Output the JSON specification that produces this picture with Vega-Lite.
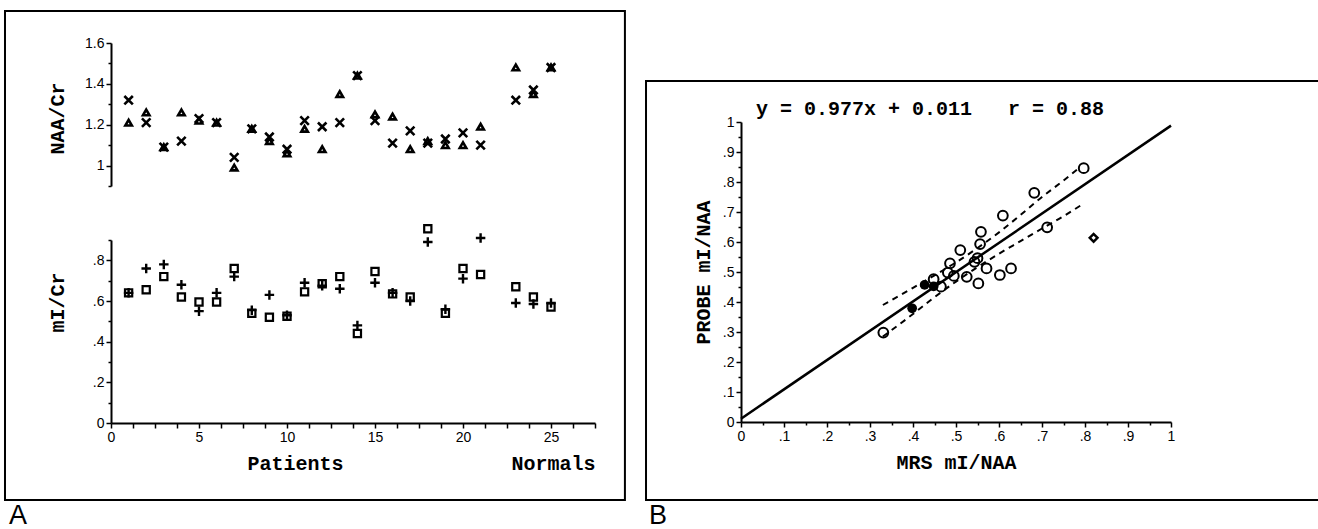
{
  "$schema": "https://vega.github.io/schema/vega-lite/v6.json",
  "background": "white",
  "padding": {"left": 3, "top": 10, "right": 0, "bottom": 0},
  "config": {
    "view": {"stroke": null},
    "axis": {
      "domainColor": "black", "domainWidth": 2, "tickColor": "black", "tickWidth": 1.5,
      "labelColor": "black", "labelFont": "Liberation Sans", "labelFontSize": 14, "labelPadding": 2,
      "labelFlush": false, "labelOverlap": false,
      "titleColor": "black", "titleFont": "Liberation Mono", "titleFontSize": 20, "titleFontWeight": "bold",
      "grid": false
    }
  },
  "datasets": {
    "naa": [
      {"patient": 1, "marker": "x", "value": 1.32}, {"patient": 1, "marker": "tri", "value": 1.21},
      {"patient": 2, "marker": "x", "value": 1.21}, {"patient": 2, "marker": "tri", "value": 1.26},
      {"patient": 3, "marker": "x", "value": 1.09}, {"patient": 3, "marker": "tri", "value": 1.09},
      {"patient": 4, "marker": "x", "value": 1.12}, {"patient": 4, "marker": "tri", "value": 1.26},
      {"patient": 5, "marker": "x", "value": 1.23}, {"patient": 5, "marker": "tri", "value": 1.22},
      {"patient": 6, "marker": "x", "value": 1.21}, {"patient": 6, "marker": "tri", "value": 1.21},
      {"patient": 7, "marker": "x", "value": 1.04}, {"patient": 7, "marker": "tri", "value": 0.99},
      {"patient": 8, "marker": "x", "value": 1.18}, {"patient": 8, "marker": "tri", "value": 1.18},
      {"patient": 9, "marker": "x", "value": 1.14}, {"patient": 9, "marker": "tri", "value": 1.12},
      {"patient": 10, "marker": "x", "value": 1.08}, {"patient": 10, "marker": "tri", "value": 1.06},
      {"patient": 11, "marker": "x", "value": 1.22}, {"patient": 11, "marker": "tri", "value": 1.18},
      {"patient": 12, "marker": "x", "value": 1.19}, {"patient": 12, "marker": "tri", "value": 1.08},
      {"patient": 13, "marker": "x", "value": 1.21}, {"patient": 13, "marker": "tri", "value": 1.35},
      {"patient": 14, "marker": "x", "value": 1.44}, {"patient": 14, "marker": "tri", "value": 1.44},
      {"patient": 15, "marker": "x", "value": 1.22}, {"patient": 15, "marker": "tri", "value": 1.25},
      {"patient": 16, "marker": "x", "value": 1.11}, {"patient": 16, "marker": "tri", "value": 1.24},
      {"patient": 17, "marker": "x", "value": 1.17}, {"patient": 17, "marker": "tri", "value": 1.08},
      {"patient": 18, "marker": "x", "value": 1.11}, {"patient": 18, "marker": "tri", "value": 1.12},
      {"patient": 19, "marker": "x", "value": 1.13}, {"patient": 19, "marker": "tri", "value": 1.10},
      {"patient": 20, "marker": "x", "value": 1.16}, {"patient": 20, "marker": "tri", "value": 1.10},
      {"patient": 21, "marker": "x", "value": 1.10}, {"patient": 21, "marker": "tri", "value": 1.19},
      {"patient": 23, "marker": "x", "value": 1.32}, {"patient": 23, "marker": "tri", "value": 1.48},
      {"patient": 24, "marker": "x", "value": 1.37}, {"patient": 24, "marker": "tri", "value": 1.35},
      {"patient": 25, "marker": "x", "value": 1.48}, {"patient": 25, "marker": "tri", "value": 1.48}
    ],
    "mi": [
      {"patient": 1, "marker": "plus", "value": 0.64}, {"patient": 1, "marker": "square", "value": 0.64},
      {"patient": 2, "marker": "plus", "value": 0.76}, {"patient": 2, "marker": "square", "value": 0.655},
      {"patient": 3, "marker": "plus", "value": 0.78}, {"patient": 3, "marker": "square", "value": 0.72},
      {"patient": 4, "marker": "plus", "value": 0.68}, {"patient": 4, "marker": "square", "value": 0.62},
      {"patient": 5, "marker": "plus", "value": 0.55}, {"patient": 5, "marker": "square", "value": 0.595},
      {"patient": 6, "marker": "plus", "value": 0.64}, {"patient": 6, "marker": "square", "value": 0.595},
      {"patient": 7, "marker": "plus", "value": 0.72}, {"patient": 7, "marker": "square", "value": 0.76},
      {"patient": 8, "marker": "plus", "value": 0.555}, {"patient": 8, "marker": "square", "value": 0.54},
      {"patient": 9, "marker": "plus", "value": 0.63}, {"patient": 9, "marker": "square", "value": 0.52},
      {"patient": 10, "marker": "plus", "value": 0.53}, {"patient": 10, "marker": "square", "value": 0.525},
      {"patient": 11, "marker": "plus", "value": 0.69}, {"patient": 11, "marker": "square", "value": 0.645},
      {"patient": 12, "marker": "plus", "value": 0.675}, {"patient": 12, "marker": "square", "value": 0.685},
      {"patient": 13, "marker": "plus", "value": 0.66}, {"patient": 13, "marker": "square", "value": 0.72},
      {"patient": 14, "marker": "plus", "value": 0.48}, {"patient": 14, "marker": "square", "value": 0.44},
      {"patient": 15, "marker": "plus", "value": 0.69}, {"patient": 15, "marker": "square", "value": 0.745},
      {"patient": 16, "marker": "plus", "value": 0.64}, {"patient": 16, "marker": "square", "value": 0.635},
      {"patient": 17, "marker": "plus", "value": 0.60}, {"patient": 17, "marker": "square", "value": 0.62},
      {"patient": 18, "marker": "plus", "value": 0.89}, {"patient": 18, "marker": "square", "value": 0.955},
      {"patient": 19, "marker": "plus", "value": 0.56}, {"patient": 19, "marker": "square", "value": 0.54},
      {"patient": 20, "marker": "plus", "value": 0.71}, {"patient": 20, "marker": "square", "value": 0.76},
      {"patient": 21, "marker": "plus", "value": 0.91}, {"patient": 21, "marker": "square", "value": 0.73},
      {"patient": 23, "marker": "plus", "value": 0.59}, {"patient": 23, "marker": "square", "value": 0.67},
      {"patient": 24, "marker": "plus", "value": 0.585}, {"patient": 24, "marker": "square", "value": 0.62},
      {"patient": 25, "marker": "plus", "value": 0.59}, {"patient": 25, "marker": "square", "value": 0.57}
    ],
    "probe": [
      {"mrs": 0.331, "probe": 0.298, "group": "open"},
      {"mrs": 0.448, "probe": 0.476, "group": "open"},
      {"mrs": 0.465, "probe": 0.451, "group": "open"},
      {"mrs": 0.481, "probe": 0.498, "group": "open"},
      {"mrs": 0.486, "probe": 0.529, "group": "open"},
      {"mrs": 0.495, "probe": 0.487, "group": "open"},
      {"mrs": 0.510, "probe": 0.573, "group": "open"},
      {"mrs": 0.525, "probe": 0.484, "group": "open"},
      {"mrs": 0.543, "probe": 0.534, "group": "open"},
      {"mrs": 0.550, "probe": 0.546, "group": "open"},
      {"mrs": 0.552, "probe": 0.462, "group": "open"},
      {"mrs": 0.556, "probe": 0.593, "group": "open"},
      {"mrs": 0.558, "probe": 0.634, "group": "open"},
      {"mrs": 0.571, "probe": 0.512, "group": "open"},
      {"mrs": 0.602, "probe": 0.490, "group": "open"},
      {"mrs": 0.609, "probe": 0.688, "group": "open"},
      {"mrs": 0.628, "probe": 0.512, "group": "open"},
      {"mrs": 0.682, "probe": 0.764, "group": "open"},
      {"mrs": 0.712, "probe": 0.649, "group": "open"},
      {"mrs": 0.797, "probe": 0.846, "group": "open"},
      {"mrs": 0.398, "probe": 0.379, "group": "filled"},
      {"mrs": 0.427, "probe": 0.457, "group": "filled"},
      {"mrs": 0.448, "probe": 0.452, "group": "filled"},
      {"mrs": 0.820, "probe": 0.614, "group": "diamond"}
    ],
    "fit": [
      {"mrs": 0, "probe": 0.011},
      {"mrs": 1, "probe": 0.988}
    ],
    "band": [
      {"mrs": 0.33, "lower": 0.285, "upper": 0.390},
      {"mrs": 0.40, "lower": 0.360, "upper": 0.447},
      {"mrs": 0.45, "lower": 0.416, "upper": 0.489},
      {"mrs": 0.50, "lower": 0.468, "upper": 0.532},
      {"mrs": 0.55, "lower": 0.516, "upper": 0.580},
      {"mrs": 0.60, "lower": 0.561, "upper": 0.632},
      {"mrs": 0.65, "lower": 0.603, "upper": 0.690},
      {"mrs": 0.70, "lower": 0.645, "upper": 0.750},
      {"mrs": 0.75, "lower": 0.686, "upper": 0.805},
      {"mrs": 0.79, "lower": 0.722, "upper": 0.851}
    ]
  },
  "resolve": {"scale": {"x": "independent", "y": "independent"}},
  "spacing": 19,
  "hconcat": [
    {
      "spacing": 54,
      "bounds": "flush",
      "resolve": {"scale": {"x": "independent", "y": "independent"}},
      "vconcat": [
        {
          "width": 484,
          "height": 143,
          "layer": [
            {
              "data": {"name": "naa"},
              "transform": [{"filter": "datum.marker === 'tri'"}],
              "mark": {"type": "point", "shape": "triangle-up", "filled": false, "color": "black", "strokeWidth": 2.6, "size": 42, "opacity": 1},
              "encoding": {
                "x": {"field": "patient", "type": "quantitative", "scale": {"domain": [0, 27.5], "nice": false}, "axis": null},
                "y": {"field": "value", "type": "quantitative", "title": "NAA/Cr", "scale": {"domain": [0.9, 1.6], "nice": false, "zero": false},
                  "axis": {
                    "title": "NAA/Cr", "titleX": -44, "titleY": 75,
                    "values": [0.9, 1, 1.1, 1.2, 1.3, 1.4, 1.5, 1.6],
                    "labelExpr": "indexof([1.2, 1.4, 1.6], datum.value) >= 0 ? format(datum.value, '.1f') : (datum.value == 1 ? '1' : '')",
                    "tickSize": {"condition": {"test": "indexof([1, 1.2, 1.4, 1.6], datum.value) >= 0", "value": 5}, "value": 3}
                  }
                }
              }
            },
            {
              "data": {"name": "naa"},
              "transform": [{"filter": "datum.marker === 'x'"}],
              "mark": {"type": "point", "shape": "M-1,-1L1,1M-1,1L1,-1", "filled": false, "color": "black", "strokeWidth": 2.6, "size": 72, "opacity": 1},
              "encoding": {
                "x": {"field": "patient", "type": "quantitative", "scale": {"domain": [0, 27.5], "nice": false}, "axis": null},
                "y": {"field": "value", "type": "quantitative", "title": "NAA/Cr", "scale": {"domain": [0.9, 1.6], "nice": false, "zero": false},
                  "axis": {
                    "title": "NAA/Cr", "titleX": -44, "titleY": 75,
                    "values": [0.9, 1, 1.1, 1.2, 1.3, 1.4, 1.5, 1.6],
                    "labelExpr": "indexof([1.2, 1.4, 1.6], datum.value) >= 0 ? format(datum.value, '.1f') : (datum.value == 1 ? '1' : '')",
                    "tickSize": {"condition": {"test": "indexof([1, 1.2, 1.4, 1.6], datum.value) >= 0", "value": 5}, "value": 3}
                  }
                }
              }
            }
          ]
        },
        {
          "width": 484,
          "height": 183,
          "layer": [
            {
              "data": {"values": [{}]},
              "mark": {"type": "rect", "fill": null, "stroke": "black", "strokeWidth": 2},
              "encoding": {
                "x": {"datum": -6.023, "type": "quantitative", "title": "Patients\u00a0\u00a0\u00a0\u00a0\u00a0\u00a0\u00a0\u00a0\u00a0\u00a0\u00a0\u00a0\u00a0\u00a0Normals", "scale": {"domain": [0, 27.5], "nice": false},
                  "axis": {
                    "title": "Patients\u00a0\u00a0\u00a0\u00a0\u00a0\u00a0\u00a0\u00a0\u00a0\u00a0\u00a0\u00a0\u00a0\u00a0Normals",
                    "titleAnchor": "end", "titlePadding": 9,
                    "values": [0, 1.25, 2.5, 3.75, 5, 6.25, 7.5, 8.75, 10, 11.25, 12.5, 13.75, 15, 16.25, 17.5, 18.75, 20, 21.25, 22.5, 23.75, 25, 26.25, 27.5],
                    "labelExpr": "datum.value % 5 === 0 ? datum.label : ''",
                    "tickSize": 5
                  }
                },
                "x2": {"datum": 29.2},
                "y": {"datum": 2.026, "type": "quantitative", "title": "mI/Cr", "scale": {"domain": [0, 0.9], "nice": false},
                  "axis": {
                    "title": "mI/Cr", "titleX": -44, "titleY": 62,
                    "values": [0, 0.1, 0.2, 0.3, 0.4, 0.5, 0.6, 0.7, 0.8, 0.9],
                    "labelExpr": "datum.value == 0 ? '0' : (indexof([0.2, 0.4, 0.6, 0.8], datum.value) >= 0 ? replace(format(datum.value, '.1f'), '0.', '.') : '')",
                    "tickSize": {"condition": {"test": "indexof([0, 0.2, 0.4, 0.6, 0.8], datum.value) >= 0", "value": 5}, "value": 3}
                  }
                },
                "y2": {"datum": -0.379}
              }
            },
            {
              "data": {"values": [{}]},
              "mark": {"type": "text", "text": "A", "font": "Liberation Sans", "fontSize": 27, "align": "left", "baseline": "alphabetic", "color": "black"},
              "encoding": {
                "x": {"datum": -5.795, "type": "quantitative", "title": "Patients\u00a0\u00a0\u00a0\u00a0\u00a0\u00a0\u00a0\u00a0\u00a0\u00a0\u00a0\u00a0\u00a0\u00a0Normals", "scale": {"domain": [0, 27.5], "nice": false},
                  "axis": {
                    "title": "Patients\u00a0\u00a0\u00a0\u00a0\u00a0\u00a0\u00a0\u00a0\u00a0\u00a0\u00a0\u00a0\u00a0\u00a0Normals",
                    "titleAnchor": "end", "titlePadding": 9,
                    "values": [0, 1.25, 2.5, 3.75, 5, 6.25, 7.5, 8.75, 10, 11.25, 12.5, 13.75, 15, 16.25, 17.5, 18.75, 20, 21.25, 22.5, 23.75, 25, 26.25, 27.5],
                    "labelExpr": "datum.value % 5 === 0 ? datum.label : ''",
                    "tickSize": 5
                  }
                },
                "y": {"datum": -0.4967, "type": "quantitative", "title": "mI/Cr", "scale": {"domain": [0, 0.9], "nice": false},
                  "axis": {
                    "title": "mI/Cr", "titleX": -44, "titleY": 62,
                    "values": [0, 0.1, 0.2, 0.3, 0.4, 0.5, 0.6, 0.7, 0.8, 0.9],
                    "labelExpr": "datum.value == 0 ? '0' : (indexof([0.2, 0.4, 0.6, 0.8], datum.value) >= 0 ? replace(format(datum.value, '.1f'), '0.', '.') : '')",
                    "tickSize": {"condition": {"test": "indexof([0, 0.2, 0.4, 0.6, 0.8], datum.value) >= 0", "value": 5}, "value": 3}
                  }
                }
              }
            },
            {
              "data": {"name": "mi"},
              "transform": [{"filter": "datum.marker === 'square'"}],
              "mark": {"type": "point", "shape": "square", "filled": false, "color": "black", "strokeWidth": 2.2, "size": 52, "opacity": 1},
              "encoding": {
                "x": {"field": "patient", "type": "quantitative", "title": "Patients\u00a0\u00a0\u00a0\u00a0\u00a0\u00a0\u00a0\u00a0\u00a0\u00a0\u00a0\u00a0\u00a0\u00a0Normals", "scale": {"domain": [0, 27.5], "nice": false},
                  "axis": {
                    "title": "Patients\u00a0\u00a0\u00a0\u00a0\u00a0\u00a0\u00a0\u00a0\u00a0\u00a0\u00a0\u00a0\u00a0\u00a0Normals",
                    "titleAnchor": "end", "titlePadding": 9,
                    "values": [0, 1.25, 2.5, 3.75, 5, 6.25, 7.5, 8.75, 10, 11.25, 12.5, 13.75, 15, 16.25, 17.5, 18.75, 20, 21.25, 22.5, 23.75, 25, 26.25, 27.5],
                    "labelExpr": "datum.value % 5 === 0 ? datum.label : ''",
                    "tickSize": 5
                  }
                },
                "y": {"field": "value", "type": "quantitative", "title": "mI/Cr", "scale": {"domain": [0, 0.9], "nice": false},
                  "axis": {
                    "title": "mI/Cr", "titleX": -44, "titleY": 62,
                    "values": [0, 0.1, 0.2, 0.3, 0.4, 0.5, 0.6, 0.7, 0.8, 0.9],
                    "labelExpr": "datum.value == 0 ? '0' : (indexof([0.2, 0.4, 0.6, 0.8], datum.value) >= 0 ? replace(format(datum.value, '.1f'), '0.', '.') : '')",
                    "tickSize": {"condition": {"test": "indexof([0, 0.2, 0.4, 0.6, 0.8], datum.value) >= 0", "value": 5}, "value": 3}
                  }
                }
              }
            },
            {
              "data": {"name": "mi"},
              "transform": [{"filter": "datum.marker === 'plus'"}],
              "mark": {"type": "point", "shape": "M-1,0L1,0M0,-1L0,1", "filled": false, "color": "black", "strokeWidth": 2.4, "size": 90, "opacity": 1},
              "encoding": {
                "x": {"field": "patient", "type": "quantitative", "title": "Patients\u00a0\u00a0\u00a0\u00a0\u00a0\u00a0\u00a0\u00a0\u00a0\u00a0\u00a0\u00a0\u00a0\u00a0Normals", "scale": {"domain": [0, 27.5], "nice": false},
                  "axis": {
                    "title": "Patients\u00a0\u00a0\u00a0\u00a0\u00a0\u00a0\u00a0\u00a0\u00a0\u00a0\u00a0\u00a0\u00a0\u00a0Normals",
                    "titleAnchor": "end", "titlePadding": 9,
                    "values": [0, 1.25, 2.5, 3.75, 5, 6.25, 7.5, 8.75, 10, 11.25, 12.5, 13.75, 15, 16.25, 17.5, 18.75, 20, 21.25, 22.5, 23.75, 25, 26.25, 27.5],
                    "labelExpr": "datum.value % 5 === 0 ? datum.label : ''",
                    "tickSize": 5
                  }
                },
                "y": {"field": "value", "type": "quantitative", "title": "mI/Cr", "scale": {"domain": [0, 0.9], "nice": false},
                  "axis": {
                    "title": "mI/Cr", "titleX": -44, "titleY": 62,
                    "values": [0, 0.1, 0.2, 0.3, 0.4, 0.5, 0.6, 0.7, 0.8, 0.9],
                    "labelExpr": "datum.value == 0 ? '0' : (indexof([0.2, 0.4, 0.6, 0.8], datum.value) >= 0 ? replace(format(datum.value, '.1f'), '0.', '.') : '')",
                    "tickSize": {"condition": {"test": "indexof([0, 0.2, 0.4, 0.6, 0.8], datum.value) >= 0", "value": 5}, "value": 3}
                  }
                }
              }
            }
          ]
        }
      ]
    },
    {
      "width": 430,
      "height": 379,
      "title": {
        "text": "y = 0.977x + 0.011 \u00a0\u00a0r = 0.88",
        "anchor": "start", "frame": "group", "dx": 15, "offset": -96, "baseline": "bottom",
        "font": "Liberation Mono", "fontWeight": "bold", "fontSize": 20, "color": "black"
      },
      "encoding": {
        "x": {"field": "mrs", "type": "quantitative", "title": "MRS mI/NAA", "scale": {"domain": [0, 1], "nice": false},
          "axis": {
            "title": "MRS mI/NAA", "titlePadding": 9,
            "values": [0, 0.05, 0.1, 0.15, 0.2, 0.25, 0.3, 0.35, 0.4, 0.45, 0.5, 0.55, 0.6, 0.65, 0.7, 0.75, 0.8, 0.85, 0.9, 0.95, 1],
            "labelExpr": "indexof([0.1, 0.2, 0.3, 0.4, 0.5, 0.6, 0.7, 0.8, 0.9], datum.value) >= 0 ? replace(format(datum.value, '.1f'), '0.', '.') : (datum.value == 0 ? '0' : (datum.value == 1 ? '1' : ''))",
            "tickSize": {"condition": {"test": "indexof([0, 0.1, 0.2, 0.3, 0.4, 0.5, 0.6, 0.7, 0.8, 0.9, 1], datum.value) >= 0", "value": 5}, "value": 3}
          }
        },
        "y": {"field": "probe", "type": "quantitative", "title": "PROBE mI/NAA", "scale": {"domain": [0, 1], "nice": false, "range": [379, 79]},
          "axis": {
            "title": "PROBE mI/NAA", "titleX": -28,
            "values": [0, 0.05, 0.1, 0.15, 0.2, 0.25, 0.3, 0.35, 0.4, 0.45, 0.5, 0.55, 0.6, 0.65, 0.7, 0.75, 0.8, 0.85, 0.9, 0.95, 1],
            "labelExpr": "indexof([0.1, 0.2, 0.3, 0.4, 0.5, 0.6, 0.7, 0.8, 0.9], datum.value) >= 0 ? replace(format(datum.value, '.1f'), '0.', '.') : (datum.value == 0 ? '0' : (datum.value == 1 ? '1' : ''))",
            "tickSize": {"condition": {"test": "indexof([0, 0.1, 0.2, 0.3, 0.4, 0.5, 0.6, 0.7, 0.8, 0.9, 1], datum.value) >= 0", "value": 5}, "value": 3}
          }
        }
      },
      "layer": [
        {
          "data": {"values": [{"mrs": -0.2209, "probe": 1.1367}]},
          "mark": {"type": "rect", "fill": null, "stroke": "black", "strokeWidth": 2},
          "encoding": {
            "x2": {"datum": 1.3605},
            "y2": {"datum": -0.26}
          }
        },
        {
          "data": {"values": [{"mrs": -0.214, "probe": -0.34}]},
          "mark": {"type": "text", "text": "B", "font": "Liberation Sans", "fontSize": 27, "align": "left", "baseline": "alphabetic", "color": "black"},
          "encoding": {}
        },
        {
          "data": {"name": "fit"},
          "mark": {"type": "line", "color": "black", "strokeWidth": 2.5},
          "encoding": {}
        },
        {
          "data": {"name": "band"},
          "mark": {"type": "line", "color": "black", "strokeWidth": 2, "strokeDash": [6, 5], "interpolate": "monotone"},
          "encoding": {"y": {"field": "upper", "type": "quantitative", "title": "PROBE mI/NAA", "scale": {"domain": [0, 1], "nice": false, "range": [379, 79]},
            "axis": {
              "title": "PROBE mI/NAA", "titleX": -28,
              "values": [0, 0.05, 0.1, 0.15, 0.2, 0.25, 0.3, 0.35, 0.4, 0.45, 0.5, 0.55, 0.6, 0.65, 0.7, 0.75, 0.8, 0.85, 0.9, 0.95, 1],
              "labelExpr": "indexof([0.1, 0.2, 0.3, 0.4, 0.5, 0.6, 0.7, 0.8, 0.9], datum.value) >= 0 ? replace(format(datum.value, '.1f'), '0.', '.') : (datum.value == 0 ? '0' : (datum.value == 1 ? '1' : ''))",
              "tickSize": {"condition": {"test": "indexof([0, 0.1, 0.2, 0.3, 0.4, 0.5, 0.6, 0.7, 0.8, 0.9, 1], datum.value) >= 0", "value": 5}, "value": 3}
            }}}
        },
        {
          "data": {"name": "band"},
          "mark": {"type": "line", "color": "black", "strokeWidth": 2, "strokeDash": [6, 5], "interpolate": "monotone"},
          "encoding": {"y": {"field": "lower", "type": "quantitative", "title": "PROBE mI/NAA", "scale": {"domain": [0, 1], "nice": false, "range": [379, 79]},
            "axis": {
              "title": "PROBE mI/NAA", "titleX": -28,
              "values": [0, 0.05, 0.1, 0.15, 0.2, 0.25, 0.3, 0.35, 0.4, 0.45, 0.5, 0.55, 0.6, 0.65, 0.7, 0.75, 0.8, 0.85, 0.9, 0.95, 1],
              "labelExpr": "indexof([0.1, 0.2, 0.3, 0.4, 0.5, 0.6, 0.7, 0.8, 0.9], datum.value) >= 0 ? replace(format(datum.value, '.1f'), '0.', '.') : (datum.value == 0 ? '0' : (datum.value == 1 ? '1' : ''))",
              "tickSize": {"condition": {"test": "indexof([0, 0.1, 0.2, 0.3, 0.4, 0.5, 0.6, 0.7, 0.8, 0.9, 1], datum.value) >= 0", "value": 5}, "value": 3}
            }}}
        },
        {
          "data": {"name": "probe"},
          "transform": [{"filter": "datum.group === 'open'"}],
          "mark": {"type": "point", "shape": "circle", "filled": false, "color": "black", "strokeWidth": 2, "size": 95, "opacity": 1},
          "encoding": {}
        },
        {
          "data": {"name": "probe"},
          "transform": [{"filter": "datum.group === 'filled'"}],
          "mark": {"type": "point", "shape": "circle", "filled": true, "color": "black", "size": 95, "opacity": 1},
          "encoding": {}
        },
        {
          "data": {"name": "probe"},
          "transform": [{"filter": "datum.group === 'diamond'"}],
          "mark": {"type": "point", "shape": "diamond", "filled": false, "color": "black", "strokeWidth": 2.5, "size": 60, "opacity": 1},
          "encoding": {}
        }
      ]
    }
  ]
}
